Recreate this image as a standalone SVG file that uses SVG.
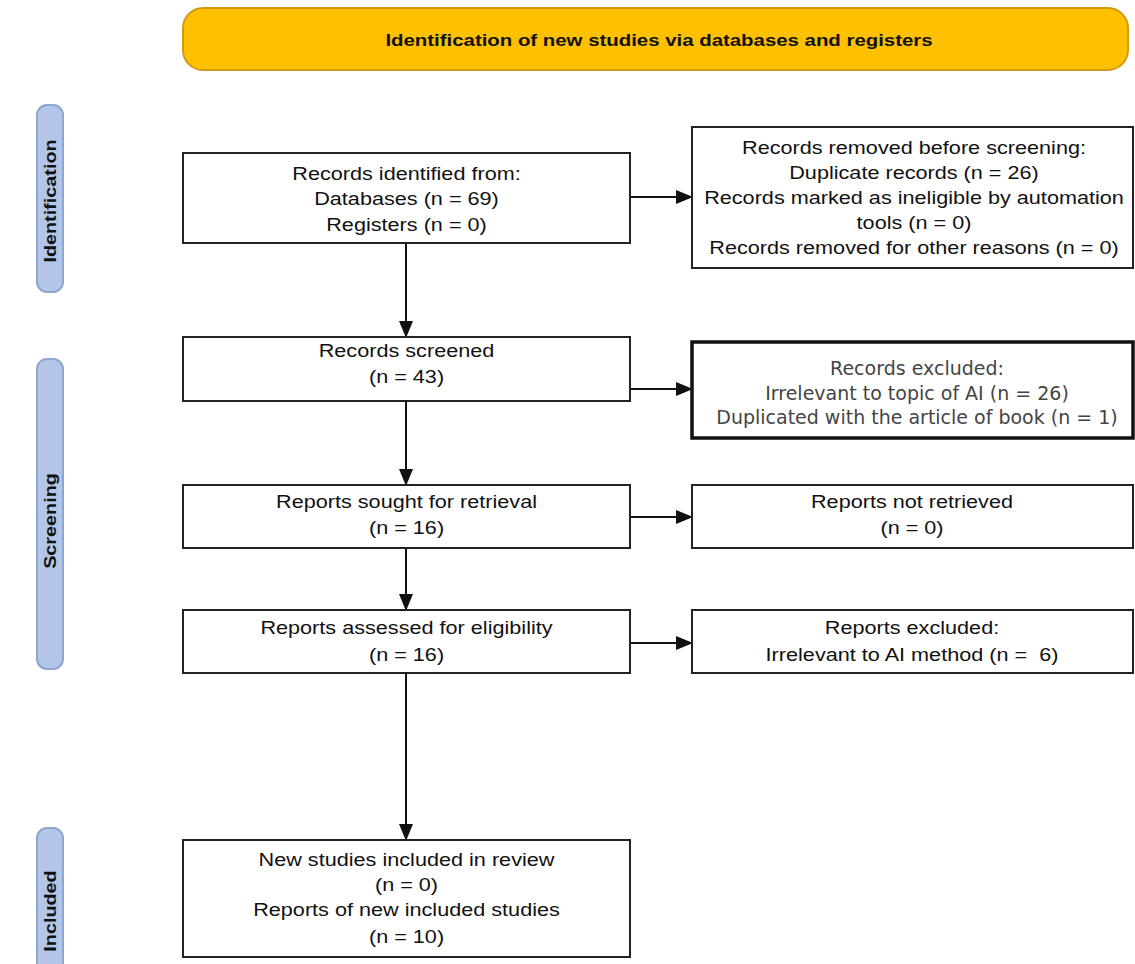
<svg xmlns="http://www.w3.org/2000/svg" width="1135" height="964" viewBox="0 0 1135 964">
<style>
.box{fill:#fff;stroke:#222;stroke-width:2}
.thick{fill:#fff;stroke:#111;stroke-width:3.5}
.side{fill:#b4c6e7;stroke:#8ea6d2;stroke-width:2}
.t{font-family:"Liberation Sans",Arial,sans-serif;font-size:18.5px;fill:#111;text-anchor:middle}
.v{font-family:"DejaVu Sans",Verdana,sans-serif;font-size:19px;fill:#444;text-anchor:middle}
.b{font-family:"Liberation Sans",Arial,sans-serif;font-size:16.5px;font-weight:bold;fill:#111;text-anchor:middle}
.line{stroke:#111;stroke-width:2;fill:none}
</style>
<defs>
<marker id="ah" markerUnits="userSpaceOnUse" markerWidth="17" markerHeight="15" refX="16" refY="7.5" orient="auto">
<path d="M0,0.5 L17,7.5 L0,14.5 Z" fill="#111"/>
</marker>
</defs>
<rect width="1135" height="964" fill="#fff"/>
<g id="banner">
<rect x="183" y="8" width="945" height="62" rx="20" fill="#ffc000" stroke="#d39a10" stroke-width="2"/>
<g transform="translate(659 0) scale(1.2 1)"><text class="b" x="0" y="46" style="font-size:17px">Identification of new studies via databases and registers</text></g>
</g>
<g id="side-identification">
<rect class="side" x="37" y="105" width="26" height="187" rx="10"/>
<g transform="translate(50 201) rotate(-90) scale(1.2 1)"><text class="b" x="0" y="6">Identification</text></g>
</g>
<g id="side-screening">
<rect class="side" x="37" y="359" width="26" height="310" rx="10"/>
<g transform="translate(50 521) rotate(-90) scale(1.2 1)"><text class="b" x="0" y="6">Screening</text></g>
</g>
<g id="side-included">
<rect class="side" x="37" y="828" width="26" height="150" rx="10"/>
<g transform="translate(50 911) rotate(-90) scale(1.2 1)"><text class="b" x="0" y="6">Included</text></g>
</g>
<g id="connectors">
<line class="line" x1="406" y1="243" x2="406" y2="337" marker-end="url(#ah)"/>
<line class="line" x1="406" y1="401" x2="406" y2="485" marker-end="url(#ah)"/>
<line class="line" x1="406" y1="548" x2="406" y2="610" marker-end="url(#ah)"/>
<line class="line" x1="406" y1="673" x2="406" y2="840" marker-end="url(#ah)"/>
<line class="line" x1="630" y1="197" x2="692" y2="197" marker-end="url(#ah)"/>
<line class="line" x1="630" y1="389" x2="692" y2="389" marker-end="url(#ah)"/>
<line class="line" x1="630" y1="517" x2="692" y2="517" marker-end="url(#ah)"/>
<line class="line" x1="630" y1="643" x2="692" y2="643" marker-end="url(#ah)"/>
</g>
<g id="records-identified">
<rect class="box" x="183" y="153" width="447" height="90"/>
<g transform="translate(406.5 0) scale(1.17 1)">
<text class="t" x="0" y="180">Records identified from:</text>
<text class="t" x="0" y="205">Databases (n = 69)</text>
<text class="t" x="0" y="231">Registers (n = 0)</text>
</g>
</g>
<g id="records-removed">
<rect class="box" x="692" y="127" width="441" height="141"/>
<g transform="translate(914 0) scale(1.17 1)">
<text class="t" x="0" y="154">Records removed before screening:</text>
<text class="t" x="0" y="179">Duplicate records (n = 26)</text>
<text class="t" x="0" y="204">Records marked as ineligible by automation</text>
<text class="t" x="0" y="229">tools (n = 0)</text>
<text class="t" x="0" y="254">Records removed for other reasons (n = 0)</text>
</g>
</g>
<g id="records-screened">
<rect class="box" x="183" y="337" width="447" height="64"/>
<g transform="translate(406.5 0) scale(1.17 1)">
<text class="t" x="0" y="357">Records screened</text>
<text class="t" x="0" y="383">(n = 43)</text>
</g>
</g>
<g id="records-excluded">
<rect class="thick" x="692" y="342" width="441" height="96"/>
<text class="v" x="917" y="375">Records excluded:</text>
<text class="v" x="917" y="400">Irrelevant to topic of AI (n = 26)</text>
<text class="v" x="917" y="424">Duplicated with the article of book (n = 1)</text>
</g>
<g id="reports-sought">
<rect class="box" x="183" y="485" width="447" height="63"/>
<g transform="translate(406.5 0) scale(1.17 1)">
<text class="t" x="0" y="508">Reports sought for retrieval</text>
<text class="t" x="0" y="534">(n = 16)</text>
</g>
</g>
<g id="reports-not-retrieved">
<rect class="box" x="692" y="485" width="441" height="63"/>
<g transform="translate(912 0) scale(1.17 1)">
<text class="t" x="0" y="508">Reports not retrieved</text>
<text class="t" x="0" y="534">(n = 0)</text>
</g>
</g>
<g id="reports-assessed">
<rect class="box" x="183" y="610" width="447" height="63"/>
<g transform="translate(406.5 0) scale(1.17 1)">
<text class="t" x="0" y="634">Reports assessed for eligibility</text>
<text class="t" x="0" y="661">(n = 16)</text>
</g>
</g>
<g id="reports-excluded">
<rect class="box" x="692" y="610" width="441" height="63"/>
<g transform="translate(912 0) scale(1.17 1)">
<text class="t" x="0" y="634">Reports excluded:</text>
<text class="t" x="0" y="661">Irrelevant to AI method (n =&#160; 6)</text>
</g>
</g>
<g id="included">
<rect class="box" x="183" y="840" width="447" height="117"/>
<g transform="translate(406.5 0) scale(1.17 1)">
<text class="t" x="0" y="866">New studies included in review</text>
<text class="t" x="0" y="891">(n = 0)</text>
<text class="t" x="0" y="916">Reports of new included studies</text>
<text class="t" x="0" y="943">(n = 10)</text>
</g>
</g>
</svg>
